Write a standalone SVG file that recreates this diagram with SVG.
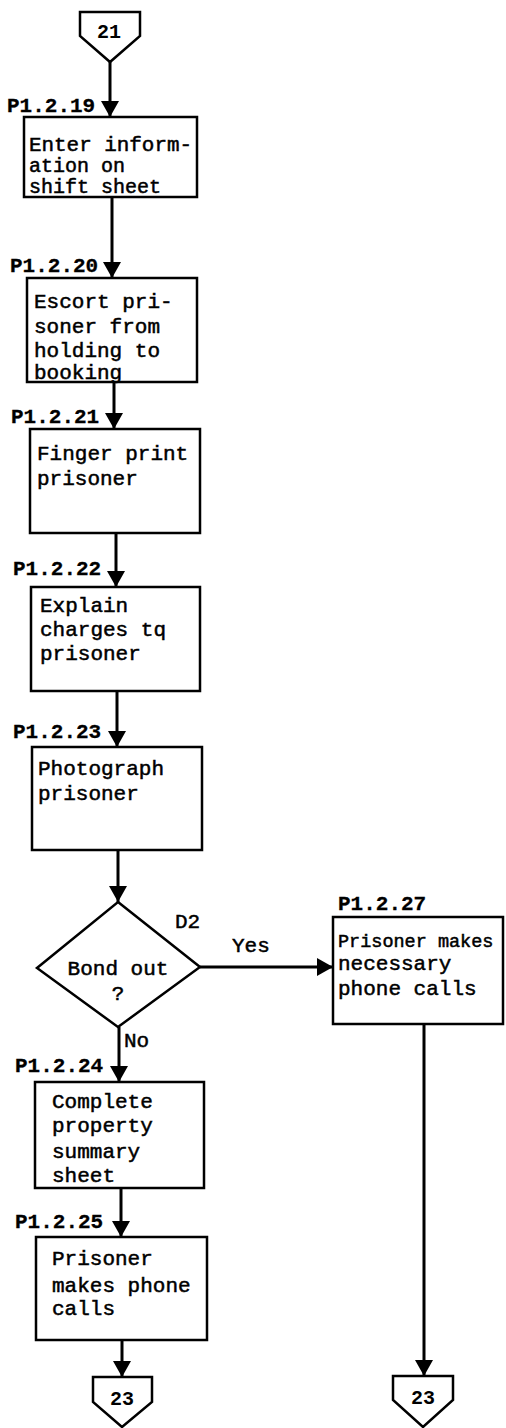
<svg xmlns="http://www.w3.org/2000/svg" width="506" height="1428" viewBox="0 0 506 1428">
<defs>
<style>
.bg{fill:#fff}
.box{fill:#fff;stroke:#000;stroke-width:2.5}
.t{font-family:"Liberation Mono","Courier New",monospace;font-size:21px;fill:#000;stroke:#000;stroke-width:0.5}
.sm{font-size:20px}
.lbl{font-weight:bold;stroke-width:0.3}
.mid{text-anchor:middle}
.cn{font-family:"Liberation Mono","Courier New",monospace;font-size:20px;font-weight:bold;fill:#000;text-anchor:middle}
.ln{stroke:#000;stroke-width:3;fill:none}
</style>
<marker id="ah" viewBox="0 0 16 18" refX="16" refY="9" markerWidth="16" markerHeight="18" markerUnits="userSpaceOnUse" orient="auto">
<path d="M0,0 L16,9 L0,18 Z" fill="#000"/>
</marker>
</defs>
<rect class="bg" x="0" y="0" width="506" height="1428"/>

<g id="connectors">
<line class="ln" x1="110" y1="62" x2="110" y2="117" marker-end="url(#ah)"/>
<line class="ln" x1="112" y1="197" x2="112" y2="278" marker-end="url(#ah)"/>
<line class="ln" x1="114" y1="382" x2="114" y2="429" marker-end="url(#ah)"/>
<line class="ln" x1="116" y1="533" x2="116" y2="587" marker-end="url(#ah)"/>
<line class="ln" x1="117" y1="691" x2="117" y2="747" marker-end="url(#ah)"/>
<line class="ln" x1="118" y1="850" x2="118" y2="902" marker-end="url(#ah)"/>
<line class="ln" x1="119" y1="1027" x2="119" y2="1082" marker-end="url(#ah)"/>
<line class="ln" x1="121" y1="1188" x2="121" y2="1237" marker-end="url(#ah)"/>
<line class="ln" x1="122" y1="1340" x2="122" y2="1377" marker-end="url(#ah)"/>
<line class="ln" x1="200" y1="967" x2="333" y2="967" marker-end="url(#ah)"/>
<line class="ln" x1="424" y1="1024" x2="424" y2="1376" marker-end="url(#ah)"/>
<text class="t" x="232" y="952">Yes</text>
<text class="t" x="124" y="1047">No</text>
</g>

<g id="c21">
<polygon class="box" points="80,12 140,12 140,36 110,62 80,36"/>
<text class="cn" x="109" y="38">21</text>
</g>

<g id="p1-2-19">
<rect class="box" x="24" y="117" width="173" height="80"/>
<text class="t lbl" x="7" y="112">P1.2.19</text>
<text class="t sm" x="29" y="151" textLength="163" lengthAdjust="spacingAndGlyphs">Enter inform-</text>
<text class="t sm" x="29" y="172">ation on</text>
<text class="t sm" x="29" y="193">shift sheet</text>
</g>

<g id="p1-2-20">
<rect class="box" x="27" y="278" width="170" height="104"/>
<text class="t lbl" x="10" y="272">P1.2.20</text>
<text class="t" x="34" y="308">Escort pri-</text>
<text class="t" x="34" y="333">soner from</text>
<text class="t" x="34" y="357">holding to</text>
<text class="t" x="34" y="379">booking</text>
</g>

<g id="p1-2-21">
<rect class="box" x="30" y="429" width="170" height="104"/>
<text class="t lbl" x="11" y="423">P1.2.21</text>
<text class="t" x="37" y="460">Finger print</text>
<text class="t" x="37" y="485">prisoner</text>
</g>

<g id="p1-2-22">
<rect class="box" x="31" y="587" width="169" height="104"/>
<text class="t lbl" x="13" y="575">P1.2.22</text>
<text class="t" x="40" y="612">Explain</text>
<text class="t" x="40" y="636">charges tq</text>
<text class="t" x="40" y="660">prisoner</text>
</g>

<g id="p1-2-23">
<rect class="box" x="32" y="747" width="170" height="103"/>
<text class="t lbl" x="13" y="738">P1.2.23</text>
<text class="t" x="38" y="775">Photograph</text>
<text class="t" x="38" y="800">prisoner</text>
</g>

<g id="d2">
<polygon class="box" points="118,902 200,967 118,1027 37,968"/>
<text class="t mid" x="118" y="975">Bond out</text>
<text class="t mid" x="118" y="1000">?</text>
<text class="t" x="175" y="928">D2</text>
</g>

<g id="p1-2-27">
<rect class="box" x="333" y="917" width="170" height="107"/>
<text class="t lbl" x="338" y="910">P1.2.27</text>
<text class="t" x="338" y="947" style="font-size:18.5px">Prisoner makes</text>
<text class="t" x="338" y="970">necessary</text>
<text class="t" x="338" y="995">phone calls</text>
</g>

<g id="p1-2-24">
<rect class="box" x="35" y="1082" width="169" height="106"/>
<text class="t lbl" x="15" y="1072">P1.2.24</text>
<text class="t" x="52" y="1108">Complete</text>
<text class="t" x="52" y="1132">property</text>
<text class="t" x="52" y="1158">summary</text>
<text class="t" x="52" y="1182">sheet</text>
</g>

<g id="p1-2-25">
<rect class="box" x="36" y="1237" width="171" height="103"/>
<text class="t lbl" x="15" y="1228">P1.2.25</text>
<text class="t" x="52" y="1265">Prisoner</text>
<text class="t" x="52" y="1292">makes phone</text>
<text class="t" x="52" y="1315">calls</text>
</g>

<g id="c23-left">
<polygon class="box" points="93,1377 152,1377 152,1402 122,1427 93,1402"/>
<text class="cn" x="122" y="1405">23</text>
</g>

<g id="c23-right">
<polygon class="box" points="393,1376 453,1376 453,1400 423,1427 393,1400"/>
<text class="cn" x="423" y="1404">23</text>
</g>
</svg>
